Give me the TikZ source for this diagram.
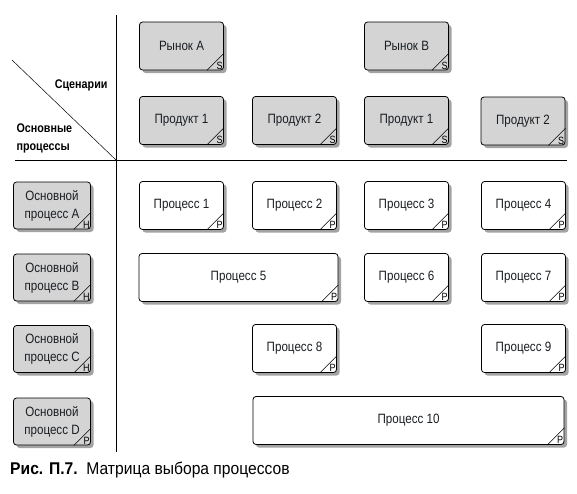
\documentclass[tikz,border=0pt]{standalone}
\usepackage{fontspec}
\setmainfont[FakeStretch=0.86]{Liberation Sans}
\newfontfamily\capfont[FakeStretch=0.92]{Liberation Sans}
\usetikzlibrary{shadows}

\definecolor{boxgray}{RGB}{212,212,212}
\definecolor{shadowgray}{RGB}{140,140,140}
\definecolor{inkcol}{RGB}{25,30,35}

\tikzset{
  matbox/.style={rectangle, rounded corners=3pt, draw=black, line width=0.8pt,
    minimum width=84pt, minimum height=48pt, inner sep=1pt,
    font=\fontsize{13.5}{14}\selectfont, text=inkcol,
    drop shadow={shadow xshift=3pt, shadow yshift=-3pt, fill=shadowgray, opacity=0.8}},
  scenbox/.style={matbox, fill=boxgray},
  procbox/.style={matbox, fill=white},
  mainbox/.style={matbox, fill=boxgray, minimum width=77pt, minimum height=47pt,
    align=center, font=\fontsize{13.5}{18}\selectfont},
  % corner mark with a letter
  cornermark/.style={append after command={
    (\tikzlastnode.south east) ++(-17pt,0) edge[draw=black, line width=0.6pt] ++(17pt,17pt)
    node[anchor=south east, inner sep=0.8pt, font=\fontsize{10.5}{10}\selectfont]
      at ([xshift=-0.3pt,yshift=0.3pt]\tikzlastnode.south east) {#1}}}
}

\begin{document}
\begin{tikzpicture}[x=1pt, y=-1pt]
  \useasboundingbox (0,0) rectangle (577,493);

  % axes of the matrix
  \draw[line width=0.8pt] (116,15) -- (116,452);
  \draw[line width=0.8pt] (15,160) -- (567,160);
  \draw[line width=0.5pt] (12,60) -- (116,160);
  \node[anchor=east, font=\bfseries\fontsize{12.5}{14}\selectfont] (scen) at (111,85) {Сценарии};
  \node[anchor=west, align=left, font=\bfseries\fontsize{12.5}{18}\selectfont] (osn) at (13,138) {Основные\\процессы};

  % scenarios
  \node[scenbox, cornermark=S] (ra) at (181.5,46) {Рынок A};
  \node[scenbox, cornermark=S] (rb) at (406.5,46) {Рынок B};
  \node[scenbox, cornermark=S] (pa1) at (181.5,120.5) {Продукт 1};
  \node[scenbox, cornermark=S] (pa2) at (294.5,120.5) {Продукт 2};
  \node[scenbox, cornermark=S] (pb1) at (406.5,120.5) {Продукт 1};
  \node[scenbox, cornermark=S] (pb2) at (523,121) {Продукт 2};

  % main processes
  \node[mainbox, cornermark=H] (ma) at (52,205.5) {Основной\\процесс A};
  \node[mainbox, cornermark=H] (mb) at (52,277.5) {Основной\\процесс B};
  \node[mainbox, cornermark=H] (mc) at (52,349) {Основной\\процесс C};
  \node[mainbox, cornermark=P] (md) at (52,421.5) {Основной\\процесс D};

  % processes
  \node[procbox, cornermark=P] (p1) at (181.5,205.5) {Процесс 1};
  \node[procbox, cornermark=P] (p2) at (294.5,205.5) {Процесс 2};
  \node[procbox, cornermark=P] (p3) at (406.5,205.5) {Процесс 3};
  \node[procbox, cornermark=P] (p4) at (523.5,205.5) {Процесс 4};
  \node[procbox, cornermark=P, minimum width=199pt] (p5) at (238.5,277.5) {Процесс 5};
  \node[procbox, cornermark=P] (p6) at (406.5,277.5) {Процесс 6};
  \node[procbox, cornermark=P] (p7) at (523.5,277.5) {Процесс 7};
  \node[procbox, cornermark=P] (p8) at (294.5,348.5) {Процесс 8};
  \node[procbox, cornermark=P] (p9) at (523.5,348.5) {Процесс 9};
  \node[procbox, cornermark=P, minimum width=311pt] (p10) at (408.5,420.5) {Процесс 10};

  % caption
  \node[anchor=west, font=\capfont\fontsize{17}{18}\selectfont, inner sep=0pt] (cap) at (10,470)
    {\textbf{Рис. П.7.}\ \ Матрица выбора процессов};
\end{tikzpicture}
\end{document}
